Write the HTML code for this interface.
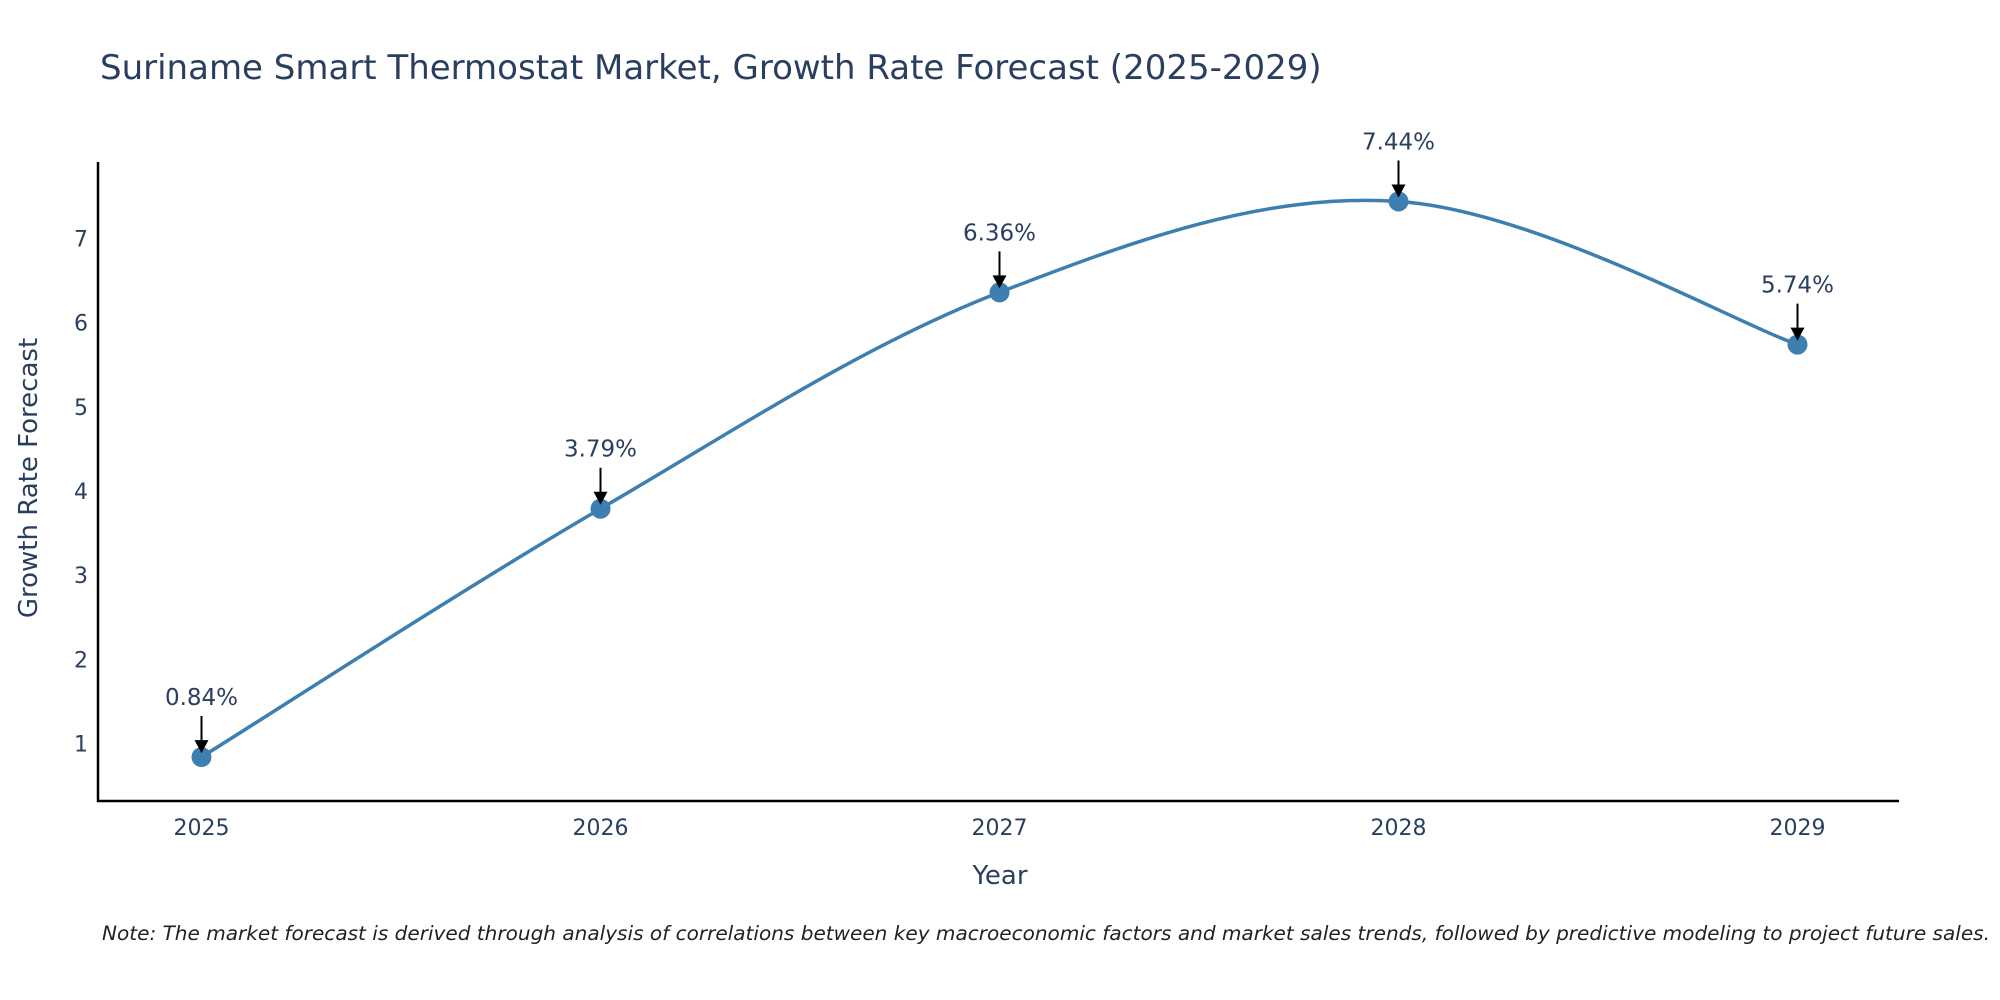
<!DOCTYPE html>
<html><head><meta charset="utf-8"><style>
body{margin:0;background:#fff;}
svg{display:block;font-family:"DejaVu Sans","Liberation Sans",sans-serif;}
</style></head><body>
<svg id="chart" width="2000" height="1000">
<text x="100" y="79" font-size="34" fill="#2a3f5f">Suriname Smart Thermostat Market, Growth Rate Forecast (2025-2029)</text>
<g id="axes"></g>
<g id="plot"></g>
<text x="1000" y="884" font-size="26" fill="#2a3f5f" text-anchor="middle">Year</text>
<text transform="translate(37,478) rotate(-90)" font-size="26" fill="#2a3f5f" text-anchor="middle">Growth Rate Forecast</text>
<text x="1990" y="940" font-size="19.5" font-style="italic" fill="#222" text-anchor="end" textLength="1888" lengthAdjust="spacingAndGlyphs">Note: The market forecast is derived through analysis of correlations between key macroeconomic factors and market sales trends, followed by predictive modeling to project future sales.</text>
</svg>
<script>
const years=[2025,2026,2027,2028,2029];
const values=[0.84,3.79,6.36,7.44,5.74];
const yTicks=[1,2,3,4,5,6,7];
const NS="http://www.w3.org/2000/svg";
const X0=201.5,DX=399;
function xs(i){return X0+i*DX;}
function ys(v){return 743.6-(v-1)*84.18;}
function mk(t,a,p){const e=document.createElementNS(NS,t);for(const k in a)e.setAttribute(k,a[k]);p.appendChild(e);return e;}
const axes=document.getElementById('axes'),plot=document.getElementById('plot');
let l=mk('line',{x1:98,y1:162,x2:98,y2:802,stroke:'#000','stroke-width':2.5},axes);


l=mk('line',{x1:97,y1:801,x2:1899,y2:801,stroke:'#000','stroke-width':2.5},axes);


yTicks.forEach(v=>{const t=mk('text',{x:88,y:ys(v)+8,'font-size':22,fill:'#2a3f5f','text-anchor':'end'},axes);t.textContent=v;

});
years.forEach((y,i)=>{const t=mk('text',{x:xs(i),y:835,'font-size':22,fill:'#2a3f5f','text-anchor':'middle'},axes);t.textContent=y;

});
const pts=values.map((v,i)=>[xs(i),ys(v)]);
let d='M'+pts[0][0]+','+pts[0][1];const s=0.17;
for(let i=0;i<pts.length-1;i++){const p0=pts[Math.max(0,i-1)],p1=pts[i],p2=pts[i+1],p3=pts[Math.min(pts.length-1,i+2)];
const c1=[p1[0]+(p2[0]-p0[0])*s,p1[1]+(p2[1]-p0[1])*s],c2=[p2[0]-(p3[0]-p1[0])*s,p2[1]-(p3[1]-p1[1])*s];
d+=' C'+c1+' '+c2+' '+p2;}
const path=mk('path',{d:d,fill:'none',stroke:'#3d7fb1','stroke-width':3.5},plot);


pts.forEach((p,i)=>{const c=mk('circle',{cx:p[0],cy:p[1],r:10,fill:'#3d7fb1'},plot);


const a=mk('line',{x1:p[0],y1:p[1]-41,x2:p[0],y2:p[1]-14,stroke:'#000','stroke-width':2},plot);


const h=mk('polygon',{points:`${p[0]-7},${p[1]-17} ${p[0]+7},${p[1]-17} ${p[0]},${p[1]-4}`,fill:'#000'},plot);


const t=mk('text',{x:p[0],y:p[1]-52,'font-size':23,fill:'#2a3f5f','text-anchor':'middle'},plot);t.textContent=values[i].toFixed(2)+'%';

});
</script>
</body></html>
